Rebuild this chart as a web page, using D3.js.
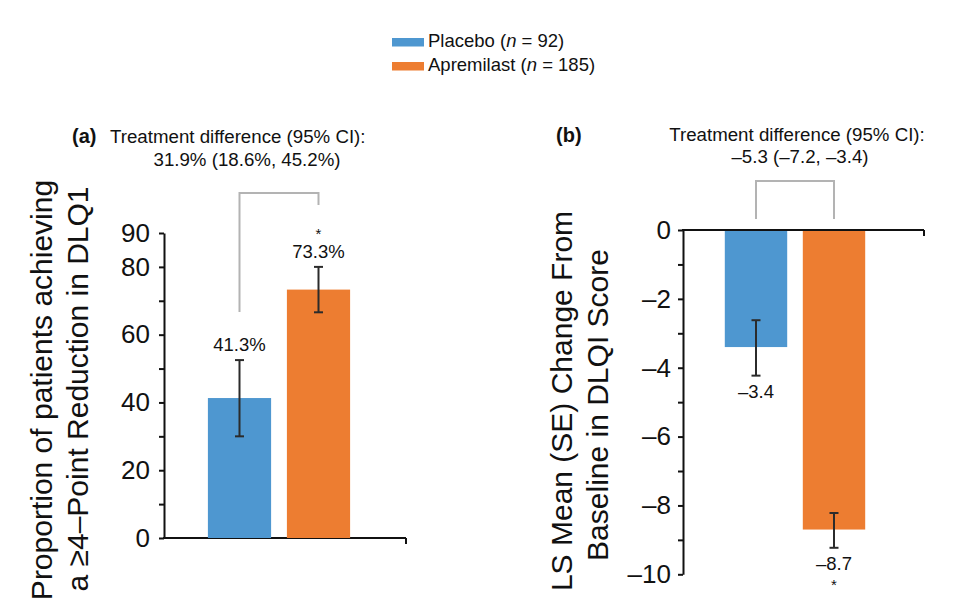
<!DOCTYPE html>
<html>
<head>
<meta charset="utf-8">
<script src="https://cdn.jsdelivr.net/npm/d3@7"></script>
<style>
  body { margin: 0; background: #fff; }
  svg text { font-family: "Liberation Sans", Arial, Helvetica, sans-serif; fill: #111; }
  .axis path, .axis line { stroke: #111; stroke-width: 2; }
  .bracket { fill: none; stroke: #b3b3b3; stroke-width: 2; }
  .err { stroke: #2b2b2b; stroke-width: 2; }
</style>
</head>
<body>
<svg id="chart" width="955" height="613"></svg>
<script>
// data
var groups = ["Placebo", "Apremilast"];
var groupN = [92, 185];
var colors = ["#4e97d0", "#ed7d31"];

// panel (a): proportion achieving >=4-point reduction
var propValues = [41.3, 73.3];
var propLow = [30.0, 66.6];
var propHigh = [52.5, 80.0];
var propLabels = ["41.3%", "73.3%"];
var propTicks = [0, 20, 40, 60, 80, 90];
var propMinor = [0, 10, 20, 30, 40, 50, 60, 70, 80, 90];

// panel (b): LS mean change in DLQI
var lsValues = [-3.4, -8.7];
var lsLow = [-4.23, -9.23];
var lsHigh = [-2.62, -8.22];
var lsLabels = ["\u20133.4", "\u20138.7"];
var lsTicks = [0, -2, -4, -6, -8, -10];
var lsMinor = [0, -1, -2, -3, -4, -5, -6, -7, -8, -9, -10];

var svg = d3.select("#chart");
var dash = function(v) { return v < 0 ? "\u2013" + Math.abs(v) : "" + v; };

// legend
var legend = svg.append("g");
groups.forEach(function(g, i) {
  var ly = 46.5 + i * 24;
  legend.append("rect")
    .attr("x", 392).attr("y", ly - 8.5)
    .attr("width", 32).attr("height", 8.5)
    .attr("fill", colors[i]);
  var t = legend.append("text")
    .attr("x", 428).attr("y", ly)
    .attr("font-size", 18.5);
  t.append("tspan").text(g + " (");
  t.append("tspan").attr("font-style", "italic").text("n");
  t.append("tspan").text(" = " + groupN[i] + ")");
});

// ---------- panel (a)
var ya = d3.scaleLinear().domain([0, 90]).range([538, 233]);
var xa = d3.scaleBand().domain(groups).range([200, 358]).paddingInner(0.2).paddingOuter(0.1);

svg.append("g").attr("class", "axis")
  .attr("transform", "translate(164,0)")
  .call(d3.axisLeft(ya).tickValues(propMinor).tickSize(5).tickSizeOuter(0).tickFormat(""));
svg.append("g").attr("class", "axis")
  .attr("transform", "translate(164,0)")
  .call(d3.axisLeft(ya).tickValues(propTicks).tickSize(0).tickPadding(14))
  .call(function(g) { g.select(".domain").remove(); })
  .selectAll("text").attr("font-size", 26);
svg.append("line")
  .attr("x1", 163).attr("x2", 406).attr("y1", ya(0)).attr("y2", ya(0))
  .attr("stroke", "#111").attr("stroke-width", 2);
svg.append("line")
  .attr("x1", 406).attr("x2", 406).attr("y1", ya(0)).attr("y2", ya(0) + 6)
  .attr("stroke", "#111").attr("stroke-width", 2);

svg.selectAll(".bar-a").data(propValues).enter().append("rect")
  .attr("x", function(d, i) { return xa(groups[i]); })
  .attr("y", function(d) { return ya(d); })
  .attr("width", xa.bandwidth())
  .attr("height", function(d) { return ya(0) - ya(d); })
  .attr("fill", function(d, i) { return colors[i]; });

propValues.forEach(function(d, i) {
  var cx = xa(groups[i]) + xa.bandwidth() / 2;
  svg.append("line").attr("class", "err")
    .attr("x1", cx).attr("x2", cx).attr("y1", ya(propLow[i])).attr("y2", ya(propHigh[i]));
  [propLow[i], propHigh[i]].forEach(function(v) {
    svg.append("line").attr("class", "err")
      .attr("x1", cx - 4.5).attr("x2", cx + 4.5).attr("y1", ya(v)).attr("y2", ya(v));
  });
  svg.append("text")
    .attr("x", cx).attr("y", ya(propHigh[i]) - 9)
    .attr("text-anchor", "middle").attr("font-size", 18.5)
    .text(propLabels[i]);
});
var ca0 = xa(groups[0]) + xa.bandwidth() / 2, ca1 = xa(groups[1]) + xa.bandwidth() / 2;
svg.append("text")
  .attr("x", ca1).attr("y", ya(propHigh[1]) - 28)
  .attr("text-anchor", "middle").attr("font-size", 15).text("*");
svg.append("path").attr("class", "bracket")
  .attr("d", "M" + ca0 + "," + 312 + "V" + 193 + "H" + ca1 + "V" + 205);

svg.append("text")
  .attr("x", 72).attr("y", 143)
  .attr("font-size", 20).attr("font-weight", "bold").text("(a)");
svg.append("text")
  .attr("x", 110).attr("y", 143)
  .attr("font-size", 18.7).text("Treatment difference (95% CI):");
svg.append("text")
  .attr("x", 247).attr("y", 166)
  .attr("text-anchor", "middle").attr("font-size", 18.7).text("31.9% (18.6%, 45.2%)");

svg.append("text")
  .attr("transform", "translate(52,390) rotate(-90)")
  .attr("text-anchor", "middle").attr("font-size", 30)
  .text("Proportion of patients achieving");
svg.append("text")
  .attr("transform", "translate(88,389) rotate(-90)")
  .attr("text-anchor", "middle").attr("font-size", 30)
  .text("a \u22654\u2013Point Reduction in DLQ1");

// ---------- panel (b)
var yb = d3.scaleLinear().domain([0, -10]).range([230, 574.3]);
var xb = d3.scaleBand().domain(groups).range([717, 873]).paddingInner(0.2).paddingOuter(0.1);

svg.append("g").attr("class", "axis")
  .attr("transform", "translate(683,0)")
  .call(d3.axisLeft(yb).tickValues(lsMinor).tickSize(5).tickSizeOuter(0).tickFormat(""));
svg.append("g").attr("class", "axis")
  .attr("transform", "translate(683,0)")
  .call(d3.axisLeft(yb).tickValues(lsTicks).tickSize(0).tickPadding(12).tickFormat(dash))
  .call(function(g) { g.select(".domain").remove(); })
  .selectAll("text").attr("font-size", 26);
svg.append("line")
  .attr("x1", 682).attr("x2", 924).attr("y1", yb(0)).attr("y2", yb(0))
  .attr("stroke", "#111").attr("stroke-width", 2);
svg.append("line")
  .attr("x1", 924).attr("x2", 924).attr("y1", yb(0)).attr("y2", yb(0) + 6)
  .attr("stroke", "#111").attr("stroke-width", 2);

svg.selectAll(".bar-b").data(lsValues).enter().append("rect")
  .attr("x", function(d, i) { return xb(groups[i]); })
  .attr("y", yb(0) + 1)
  .attr("width", xb.bandwidth())
  .attr("height", function(d) { return yb(d) - yb(0) - 1; })
  .attr("fill", function(d, i) { return colors[i]; });

lsValues.forEach(function(d, i) {
  var cx = xb(groups[i]) + xb.bandwidth() / 2;
  svg.append("line").attr("class", "err")
    .attr("x1", cx).attr("x2", cx).attr("y1", yb(lsLow[i])).attr("y2", yb(lsHigh[i]));
  [lsLow[i], lsHigh[i]].forEach(function(v) {
    svg.append("line").attr("class", "err")
      .attr("x1", cx - 4.5).attr("x2", cx + 4.5).attr("y1", yb(v)).attr("y2", yb(v));
  });
  svg.append("text")
    .attr("x", cx).attr("y", yb(lsLow[i]) + 22)
    .attr("text-anchor", "middle").attr("font-size", 18.5)
    .text(lsLabels[i]);
});
var cb0 = xb(groups[0]) + xb.bandwidth() / 2, cb1 = xb(groups[1]) + xb.bandwidth() / 2;
svg.append("text")
  .attr("x", cb1).attr("y", yb(lsLow[1]) + 42)
  .attr("text-anchor", "middle").attr("font-size", 15).text("*");
svg.append("path").attr("class", "bracket")
  .attr("d", "M" + cb0 + "," + 219 + "V" + 181 + "H" + cb1 + "V" + 219);

svg.append("text")
  .attr("x", 556).attr("y", 141.5)
  .attr("font-size", 20).attr("font-weight", "bold").text("(b)");
svg.append("text")
  .attr("x", 797).attr("y", 141)
  .attr("text-anchor", "middle").attr("font-size", 18.7).text("Treatment difference (95% CI):");
svg.append("text")
  .attr("x", 800).attr("y", 163)
  .attr("text-anchor", "middle").attr("font-size", 18.7).text("\u20135.3 (\u20137.2, \u20133.4)");

svg.append("text")
  .attr("transform", "translate(572,401) rotate(-90)")
  .attr("text-anchor", "middle").attr("font-size", 30)
  .text("LS Mean (SE) Change From");
svg.append("text")
  .attr("transform", "translate(608,405) rotate(-90)")
  .attr("text-anchor", "middle").attr("font-size", 30)
  .text("Baseline in DLQI Score");
</script>
</body>
</html>
